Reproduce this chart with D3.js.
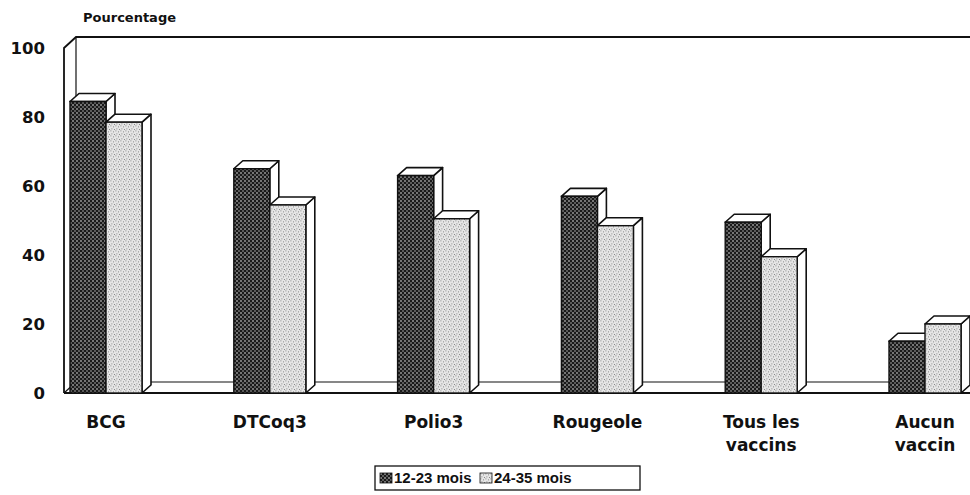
<!DOCTYPE html>
<html>
<head>
<meta charset="utf-8">
<script src="https://cdn.jsdelivr.net/npm/d3@7"></script>
<style>
	body { margin: 0; background: #fff; }
	text { font-family: 'DejaVu Sans', Arial, Helvetica, sans-serif; font-weight: bold; fill: #111; }
	.legend text { font-family: 'Liberation Sans', Arial, Helvetica, sans-serif; }
</style>
</head>
<body>
<svg id="chart" width="970" height="495"></svg>
<script>
// data
const categories = ['BCG', 'DTCoq3', 'Polio3', 'Rougeole', 'Tous les vaccins', 'Aucun vaccin'];
const labelLines = [['BCG'], ['DTCoq3'], ['Polio3'], ['Rougeole'], ['Tous les', 'vaccins'], ['Aucun', 'vaccin']];
const series = ['12-23 mois', '24-35 mois'];
const values1223 = [84.5, 65, 63, 57, 49.5, 15];
const values2435 = [78.5, 54.5, 50.5, 48.5, 39.5, 20];
const yTicks = [0, 20, 40, 60, 80, 100];

const width = 970;
const height = 495;
const svg = d3.select('#chart');

const y = d3.scaleLinear().domain([0, 100]).range([393, 48]);
const x = d3.scaleBand().domain(categories).range([64, 64 + 6 * 163.8]);
const barW = 36;
const barOffset = 6;
const wallDx = 12, wallDy = -11;
const barDx = 9, barDy = -8;

// patterns
const defs = svg.append('defs');
const dark = defs.append('pattern').attr('id', 'dark').attr('patternUnits', 'userSpaceOnUse')
	.attr('width', 4).attr('height', 4);
dark.append('rect').attr('width', 4).attr('height', 4).attr('fill', '#1a1a1a');
dark.append('circle').attr('cx', 1).attr('cy', 1).attr('r', 0.75).attr('fill', '#fff');
dark.append('circle').attr('cx', 3).attr('cy', 3).attr('r', 0.75).attr('fill', '#bbb');

const light = defs.append('pattern').attr('id', 'light').attr('patternUnits', 'userSpaceOnUse')
	.attr('width', 5).attr('height', 5);
light.append('rect').attr('width', 5).attr('height', 5).attr('fill', '#e6e6e6');
[[0.5, 0.5], [3, 1.5], [1.5, 3.5], [4, 4]].forEach(p => {
	light.append('rect').attr('x', p[0]).attr('y', p[1]).attr('width', 0.8).attr('height', 0.8).attr('fill', '#555');
});

const g = svg.append('g');
const line = d3.line();

// back wall top and left side panel
const x0 = x.range()[0];
g.append('path')
	.attr('d', line([[x0, y(0)], [x0, y(100)], [x0 + wallDx, y(100) + wallDy], [width, y(100) + wallDy]]))
	.attr('fill', 'none').attr('stroke', '#111').attr('stroke-width', 1.8);
g.append('line')
	.attr('x1', x0 + wallDx).attr('x2', x0 + wallDx)
	.attr('y1', y(100) + wallDy).attr('y2', y(0) + wallDy)
	.attr('stroke', '#111').attr('stroke-width', 1.2);

// floor
g.append('line')
	.attr('x1', x0 + wallDx).attr('x2', width)
	.attr('y1', y(0) + wallDy).attr('y2', y(0) + wallDy)
	.attr('stroke', '#111').attr('stroke-width', 1.2);
g.append('line')
	.attr('x1', x0).attr('x2', x0 + wallDx)
	.attr('y1', y(0)).attr('y2', y(0) + wallDy)
	.attr('stroke', '#111').attr('stroke-width', 1.2);
g.append('line')
	.attr('x1', x0).attr('x2', width)
	.attr('y1', y(0)).attr('y2', y(0))
	.attr('stroke', '#111').attr('stroke-width', 2);

// 3d bars
function bar3d(left, value, fill) {
	const top = y(value);
	const bottom = y(0);
	const right = left + barW;
	const b = g.append('g');
	b.append('path')
		.attr('d', line([[right, bottom], [right + barDx, bottom + barDy], [right + barDx, top + barDy], [right, top]]) + 'Z')
		.attr('fill', '#fff').attr('stroke', '#111').attr('stroke-width', 1.6).attr('stroke-linejoin', 'round');
	b.append('path')
		.attr('d', line([[left, top], [left + barDx, top + barDy], [right + barDx, top + barDy], [right, top]]) + 'Z')
		.attr('fill', '#fff').attr('stroke', '#111').attr('stroke-width', 1.6).attr('stroke-linejoin', 'round');
	b.append('rect')
		.attr('x', left).attr('y', top).attr('width', barW).attr('height', bottom - top)
		.attr('fill', fill).attr('stroke', '#111').attr('stroke-width', 1.4);
}

categories.forEach((c, i) => {
	const left = x(c) + barOffset;
	bar3d(left, values1223[i], 'url(#dark)');
	bar3d(left + barW, values2435[i], 'url(#light)');
});

// y tick labels
svg.append('g').selectAll('text')
	.data(yTicks)
	.enter()
	.append('text')
	.attr('x', 45)
	.attr('y', d => y(d))
	.attr('dy', '0.36em')
	.attr('text-anchor', 'end')
	.style('font-size', '16.5px')
	.text(d => d);

svg.append('text')
	.attr('x', 83).attr('y', 22)
	.style('font-size', '13px')
	.text('Pourcentage');

// category labels
const catG = svg.append('g').selectAll('text')
	.data(categories)
	.enter()
	.append('text')
	.attr('text-anchor', 'middle')
	.attr('x', d => x(d) + barOffset + barW)
	.attr('y', 428)
	.style('font-size', '17px');
catG.selectAll('tspan')
	.data((d, i) => labelLines[i])
	.enter()
	.append('tspan')
	.attr('x', function() { return d3.select(this.parentNode).attr('x'); })
	.attr('dy', (d, i) => (i === 0 ? 0 : 23))
	.text(d => d);

// legend
const legend = svg.append('g').attr('class', 'legend').attr('transform', 'translate(375,466)');
legend.append('rect')
	.attr('width', 265).attr('height', 24)
	.attr('fill', '#fff').attr('stroke', '#111').attr('stroke-width', 1.3);
const legendX = [5, 105];
series.forEach((s, i) => {
	const item = legend.append('g').attr('transform', `translate(${legendX[i]},7)`);
	item.append('rect')
		.attr('width', 12).attr('height', 10)
		.attr('fill', i === 0 ? 'url(#dark)' : 'url(#light)')
		.attr('stroke', '#111').attr('stroke-width', 0.8);
	item.append('text')
		.attr('x', 14).attr('y', 5).attr('dy', '0.36em')
		.style('font-size', '15px')
		.text(s);
});
</script>
</body>
</html>
